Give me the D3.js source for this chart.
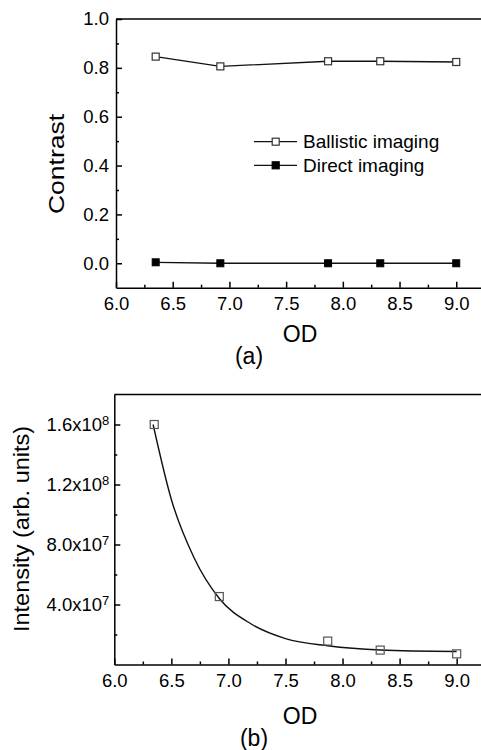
<!DOCTYPE html>
<html>
<head>
<meta charset="utf-8">
<script src="https://cdn.jsdelivr.net/npm/d3@7"></script>
<style>
  body { margin: 0; background: #fff; }
  svg { display: block; font-family: "Liberation Sans", Arial, sans-serif; }
  .axis path, .axis line { stroke: #000; stroke-width: 1.5; }
  .axis text { font-size: 18.5px; fill: #000; }
</style>
</head>
<body>
<svg id="chart"></svg>
<script>
const W = 481;
const H = 750;

// values
const od = [6.35, 6.92, 7.87, 8.33, 9.0];
const ballistic = [0.846, 0.806, 0.827, 0.827, 0.824];
const direct = [0.004, 0.0, 0.0, 0.0, 0.0];
const intensity = [1.6e8, 4.53e7, 1.56e7, 9.6e6, 7.1e6];
// fitted decay curve
const fitOD = [6.34, 6.5, 6.7, 6.92, 7.2, 7.5, 7.87, 8.33, 9.0];
const fitIntensity = [1.6e8, 1.1e8, 7.1e7, 4.4e7, 2.7e7, 1.73e7, 1.25e7, 9.7e6, 8.7e6];

const odTicks = [6.0, 6.5, 7.0, 7.5, 8.0, 8.5, 9.0];
const odMinor = [6.25, 6.75, 7.25, 7.75, 8.25, 8.75];
const contrastTicks = [0.0, 0.2, 0.4, 0.6, 0.8, 1.0];
const contrastMinor = [0.1, 0.3, 0.5, 0.7, 0.9];
const intensityTicks = [4e7, 8e7, 1.2e8, 1.6e8];
const intensityMinor = [2e7, 6e7, 1e8, 1.4e8];
const intensityLabels = [["4.0", "7"], ["8.0", "7"], ["1.2", "8"], ["1.6", "8"]];

const svg = d3.select("#chart").attr("width", W).attr("height", H);

// ---------- (a) contrast ----------
const xA = d3.scaleLinear().domain([6, 9.25]).range([116, 484.6]);
const yA = d3.scaleLinear().domain([-0.1, 1.0]).range([287.7, 19]);

const gxA = svg.append("g").attr("class", "axis")
  .attr("transform", `translate(0, ${yA(-0.1)})`)
  .call(d3.axisBottom(xA).tickValues(odTicks).tickSizeInner(-6).tickSizeOuter(0)
    .tickPadding(9).tickFormat(d3.format(".1f")));
svg.append("g").attr("class", "axis")
  .attr("transform", `translate(0, ${yA(-0.1)})`)
  .call(d3.axisBottom(xA).tickValues(odMinor).tickSizeInner(-3).tickSizeOuter(0).tickFormat(""))
  .select(".domain").remove();

svg.append("g").attr("class", "axis")
  .attr("transform", `translate(${xA(6)}, 0)`)
  .call(d3.axisLeft(yA).tickValues(contrastTicks).tickSizeInner(-6).tickSizeOuter(0)
    .tickPadding(7).tickFormat(d3.format(".1f")));
svg.append("g").attr("class", "axis")
  .attr("transform", `translate(${xA(6)}, 0)`)
  .call(d3.axisLeft(yA).tickValues(contrastMinor).tickSizeInner(-3).tickSizeOuter(0).tickFormat(""))
  .select(".domain").remove();

svg.append("line")
  .attr("x1", xA(6)).attr("x2", xA(9.25))
  .attr("y1", yA(1.0)).attr("y2", yA(1.0))
  .attr("stroke", "#000").attr("stroke-width", 1.5);

const lineA = d3.line().x(d => xA(d[0])).y(d => yA(d[1]));

svg.append("path")
  .datum(d3.zip(od, ballistic))
  .attr("d", lineA)
  .attr("fill", "none").attr("stroke", "#111").attr("stroke-width", 1.3);
svg.append("path")
  .datum(d3.zip(od, direct))
  .attr("d", lineA)
  .attr("fill", "none").attr("stroke", "#111").attr("stroke-width", 1.3);

const sq = 7;
svg.selectAll(".ball").data(d3.zip(od, ballistic)).enter().append("rect")
  .attr("x", d => xA(d[0]) - sq / 2).attr("y", d => yA(d[1]) - sq / 2)
  .attr("width", sq).attr("height", sq)
  .attr("fill", "#fff").attr("stroke", "#333").attr("stroke-width", 1.2);
svg.selectAll(".dir").data(d3.zip(od, direct)).enter().append("rect")
  .attr("x", d => xA(d[0]) - sq / 2).attr("y", d => yA(d[1]) - sq / 2)
  .attr("width", sq).attr("height", sq)
  .attr("fill", "#000").attr("stroke", "#000").attr("stroke-width", 1);

// legend
const legend = [
  { label: "Ballistic imaging", fill: "#fff", stroke: "#333", y: 141.7 },
  { label: "Direct imaging", fill: "#000", stroke: "#000", y: 165.3 }
];
legend.forEach(l => {
  svg.append("line").attr("x1", 254).attr("x2", 297).attr("y1", l.y).attr("y2", l.y)
    .attr("stroke", "#111").attr("stroke-width", 1.3);
  svg.append("rect").attr("x", 275.7 - sq / 2).attr("y", l.y - sq / 2)
    .attr("width", sq).attr("height", sq)
    .attr("fill", l.fill).attr("stroke", l.stroke).attr("stroke-width", 1.2);
  svg.append("text").attr("x", 303).attr("y", l.y + 6.2)
    .attr("font-size", 19).text(l.label);
});

svg.append("text")
  .attr("transform", "translate(64, 164) rotate(-90)")
  .attr("text-anchor", "middle")
  .attr("font-size", 22)
  .attr("textLength", 100).attr("lengthAdjust", "spacingAndGlyphs")
  .text("Contrast");

svg.append("text").attr("x", 300).attr("y", 342)
  .attr("text-anchor", "middle").attr("font-size", 23).text("OD");
svg.append("text").attr("x", 249).attr("y", 364)
  .attr("text-anchor", "middle").attr("font-size", 23).text("(a)");

// ---------- (b) intensity ----------
const xB = d3.scaleLinear().domain([6, 9.25]).range([114.3, 485.2]);
const yB = d3.scaleLinear().domain([0, 1.8e8]).range([664.5, 394.5]);

svg.append("g").attr("class", "axis")
  .attr("transform", `translate(0, ${yB(0)})`)
  .call(d3.axisBottom(xB).tickValues(odTicks).tickSizeInner(-6).tickSizeOuter(0)
    .tickPadding(9).tickFormat(d3.format(".1f")));
svg.append("g").attr("class", "axis")
  .attr("transform", `translate(0, ${yB(0)})`)
  .call(d3.axisBottom(xB).tickValues(odMinor).tickSizeInner(-3).tickSizeOuter(0).tickFormat(""))
  .select(".domain").remove();

const gyB = svg.append("g").attr("class", "axis")
  .attr("transform", `translate(${xB(6)}, 0)`)
  .call(d3.axisLeft(yB).tickValues(intensityTicks).tickSizeInner(-6).tickSizeOuter(0)
    .tickPadding(5).tickFormat(""));
gyB.selectAll(".tick text").each(function (d, i) {
  const t = d3.select(this);
  t.append("tspan").text(intensityLabels[i][0] + "x10");
  t.append("tspan").attr("font-size", 13).attr("dy", -5.5).text(intensityLabels[i][1]);
});
svg.append("g").attr("class", "axis")
  .attr("transform", `translate(${xB(6)}, 0)`)
  .call(d3.axisLeft(yB).tickValues(intensityMinor).tickSizeInner(-3).tickSizeOuter(0).tickFormat(""))
  .select(".domain").remove();

svg.append("line")
  .attr("x1", xB(6)).attr("x2", xB(9.25))
  .attr("y1", yB(1.8e8)).attr("y2", yB(1.8e8))
  .attr("stroke", "#000").attr("stroke-width", 1.5);

svg.append("path")
  .datum(d3.zip(fitOD, fitIntensity))
  .attr("d", d3.line().x(d => xB(d[0])).y(d => yB(d[1])).curve(d3.curveMonotoneX))
  .attr("fill", "none").attr("stroke", "#111").attr("stroke-width", 1.4);

const sqB = 8;
svg.selectAll(".int").data(d3.zip(od, intensity)).enter().append("rect")
  .attr("x", d => xB(d[0]) - sqB / 2).attr("y", d => yB(d[1]) - sqB / 2)
  .attr("width", sqB).attr("height", sqB)
  .attr("fill", "none").attr("stroke", "#555").attr("stroke-width", 1.2);

svg.append("text")
  .attr("transform", "translate(28.5, 529) rotate(-90)")
  .attr("text-anchor", "middle")
  .attr("font-size", 22)
  .attr("textLength", 206).attr("lengthAdjust", "spacingAndGlyphs")
  .text("Intensity (arb. units)");

svg.append("text").attr("x", 300).attr("y", 724)
  .attr("text-anchor", "middle").attr("font-size", 23).text("OD");
svg.append("text").attr("x", 254).attr("y", 746)
  .attr("text-anchor", "middle").attr("font-size", 23).text("(b)");
</script>
</body>
</html>
